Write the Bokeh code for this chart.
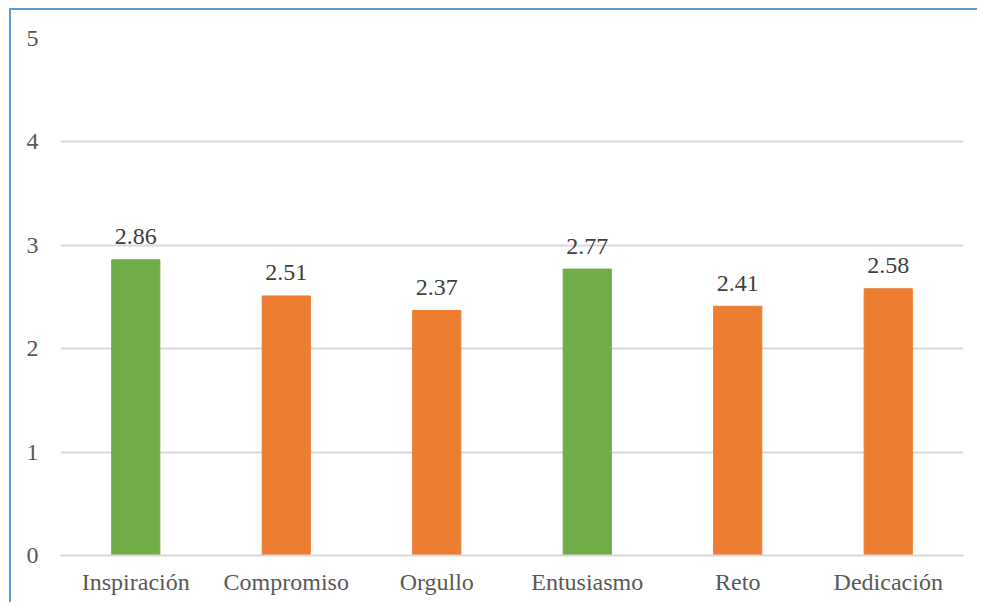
from bokeh.plotting import figure
from bokeh.models import ColumnDataSource, Range1d, FixedTicker
from bokeh.embed import file_html
from bokeh.resources import INLINE
from bokeh.core.properties import value

categories = ["Inspiración", "Compromiso", "Orgullo", "Entusiasmo", "Reto", "Dedicación"]
values = [2.86, 2.51, 2.37, 2.77, 2.41, 2.58]
colors = ["#70AD47", "#ED7D31", "#ED7D31", "#70AD47", "#ED7D31", "#ED7D31"]
labels = ["2.86", "2.51", "2.37", "2.77", "2.41", "2.58"]
y_ticks = [0, 1, 2, 3, 4, 5]

src = ColumnDataSource(dict(cat=categories, val=values, col=colors, lab=labels))

p = figure(x_range=categories, y_range=Range1d(0, 5), width=968, height=594,
           output_backend="svg", toolbar_location=None,
           min_border_left=49, min_border_right=16, min_border_top=28, min_border_bottom=49)
p.margin = (8, 0, 0, 9)
p.styles = {"border-top": "2px solid #5B9BD5", "border-left": "2px solid #5B9BD5"}
p.outline_line_color = None
p.background_fill_color = "white"
p.border_fill_color = "white"

p.vbar(x="cat", top="val", width=0.32, color="col", source=src)

font = "Liberation Serif"
p.text(x="cat", y="val", text="lab", source=src, text_align="center", text_baseline="alphabetic",
       y_offset=-23, text_font=value(font), text_font_size="24px", text_color="#404040")

p.yaxis.ticker = FixedTicker(ticks=y_ticks)
p.yaxis.axis_line_color = None
p.yaxis.major_tick_line_color = None
p.yaxis.minor_tick_line_color = None
p.yaxis.major_tick_out = 0
p.yaxis.major_tick_in = 0
p.yaxis.major_label_standoff = 22
p.yaxis.major_label_text_font = font
p.yaxis.major_label_text_font_size = "24px"
p.yaxis.major_label_text_color = "#595959"

p.xaxis.axis_line_color = "#D9D9D9"
p.xaxis.axis_line_width = 2
p.xaxis.major_tick_line_color = None
p.xaxis.minor_tick_line_color = None
p.xaxis.major_tick_out = 0
p.xaxis.major_tick_in = 0
p.xaxis.major_label_standoff = 13
p.xaxis.major_label_text_font = font
p.xaxis.major_label_text_font_size = "24px"
p.xaxis.major_label_text_color = "#595959"

p.xgrid.grid_line_color = None
p.ygrid.grid_line_color = "#D9D9D9"
p.ygrid.grid_line_width = 2

open("out.html", "w").write(file_html(p, INLINE))
